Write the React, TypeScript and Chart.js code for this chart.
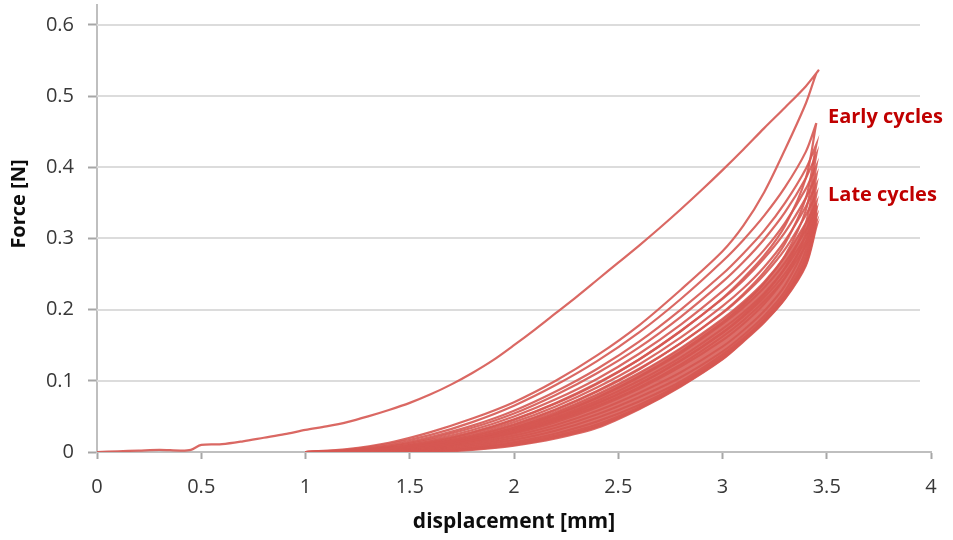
import React, { useEffect, useRef } from "react";
import { Chart, registerables } from "chart.js";

Chart.register(...registerables);

// ---------- data ----------
// shared displacement grid for cycles 2..13 and cycle-1 unloading [mm]
const GRID_X = [1.0, 1.2, 1.4, 1.6, 1.8, 2.0, 2.2, 2.4, 2.6, 2.8, 3.0, 3.1, 3.2, 3.3, 3.4, 3.45];

// first loading from zero
const LOAD_1_X = [0, 0.1, 0.2, 0.3, 0.4, 0.45, 0.5, 0.6, 0.7, 0.8, 0.9, 1.0, 1.1, 1.2, 1.3, 1.4, 1.5, 1.6, 1.7, 1.8, 1.9, 2.0, 2.1, 2.2, 2.3, 2.4, 2.5, 2.6, 2.7, 2.8, 2.9, 3.0, 3.1, 3.2, 3.3, 3.4, 3.46];
const LOAD_1_Y = [0, 0.001, 0.002, 0.003, 0.002, 0.003, 0.010, 0.011, 0.015, 0.020, 0.025, 0.031, 0.036, 0.042, 0.050, 0.059, 0.069, 0.081, 0.095, 0.111, 0.129, 0.150, 0.172, 0.195, 0.218, 0.242, 0.266, 0.290, 0.315, 0.341, 0.368, 0.396, 0.425, 0.455, 0.484, 0.514, 0.536];
const UNLOAD_1 = [0, 0.004, 0.013, 0.028, 0.047, 0.070, 0.100, 0.136, 0.178, 0.228, 0.282, 0.318, 0.365, 0.425, 0.490, 0.532];

// later cycles: loading / unloading force on GRID_X [N]
const LOAD_2 = [0, 0.003, 0.011, 0.024, 0.042, 0.065, 0.094, 0.128, 0.168, 0.215, 0.268, 0.298, 0.332, 0.372, 0.422, 0.462];
const UNLOAD_2 = [0, 0.001, 0.005, 0.014, 0.027, 0.045, 0.068, 0.096, 0.130, 0.170, 0.216, 0.244, 0.276, 0.318, 0.385, 0.462];
const LOAD_3 = [0, 0.002, 0.009, 0.021, 0.037, 0.058, 0.085, 0.117, 0.155, 0.200, 0.250, 0.279, 0.311, 0.350, 0.398, 0.432];
const UNLOAD_3 = [0, 0, 0.004, 0.011, 0.022, 0.038, 0.059, 0.085, 0.116, 0.153, 0.196, 0.222, 0.253, 0.293, 0.357, 0.432];
const LOAD_4 = [0, 0.002, 0.008, 0.019, 0.034, 0.054, 0.080, 0.111, 0.147, 0.190, 0.239, 0.267, 0.299, 0.337, 0.385, 0.418];
const UNLOAD_4 = [0, 0, 0.003, 0.009, 0.019, 0.034, 0.053, 0.077, 0.106, 0.141, 0.182, 0.207, 0.237, 0.276, 0.340, 0.418];
const LOAD_5 = [0, 0.001, 0.007, 0.017, 0.031, 0.050, 0.074, 0.103, 0.138, 0.179, 0.226, 0.253, 0.284, 0.322, 0.370, 0.402];
const UNLOAD_5 = [0, 0, 0.002, 0.007, 0.016, 0.029, 0.047, 0.069, 0.096, 0.129, 0.168, 0.192, 0.221, 0.259, 0.322, 0.402];
const LOAD_6 = [0, 0.001, 0.006, 0.015, 0.028, 0.046, 0.069, 0.097, 0.130, 0.170, 0.215, 0.241, 0.272, 0.309, 0.357, 0.388];
const UNLOAD_6 = [0, 0, 0.002, 0.006, 0.014, 0.026, 0.042, 0.063, 0.089, 0.120, 0.157, 0.180, 0.208, 0.245, 0.307, 0.388];
const LOAD_7 = [0, 0.001, 0.005, 0.013, 0.025, 0.042, 0.064, 0.091, 0.123, 0.161, 0.205, 0.230, 0.260, 0.297, 0.345, 0.375];
const UNLOAD_7 = [0, 0, 0.001, 0.005, 0.012, 0.023, 0.038, 0.058, 0.083, 0.112, 0.148, 0.171, 0.198, 0.234, 0.294, 0.375];
const LOAD_8 = [0, 0, 0.004, 0.012, 0.023, 0.039, 0.060, 0.086, 0.117, 0.153, 0.195, 0.220, 0.249, 0.285, 0.333, 0.362];
const UNLOAD_8 = [0, 0, 0.001, 0.004, 0.010, 0.020, 0.034, 0.053, 0.077, 0.105, 0.141, 0.164, 0.191, 0.226, 0.284, 0.362];
const LOAD_9 = [0, 0, 0.004, 0.011, 0.021, 0.036, 0.056, 0.081, 0.111, 0.146, 0.187, 0.211, 0.239, 0.275, 0.322, 0.350];
const UNLOAD_9 = [0, 0, 0.001, 0.003, 0.008, 0.017, 0.030, 0.048, 0.071, 0.099, 0.137, 0.160, 0.187, 0.221, 0.276, 0.350];
const LOAD_10 = [0, 0, 0.003, 0.010, 0.019, 0.033, 0.052, 0.076, 0.105, 0.139, 0.180, 0.203, 0.231, 0.266, 0.312, 0.340];
const UNLOAD_10 = [0, 0, 0, 0.002, 0.006, 0.014, 0.026, 0.043, 0.066, 0.096, 0.134, 0.158, 0.185, 0.219, 0.270, 0.340];
const LOAD_11 = [0, 0, 0.003, 0.009, 0.018, 0.031, 0.049, 0.072, 0.100, 0.133, 0.173, 0.196, 0.223, 0.258, 0.303, 0.330];
const UNLOAD_11 = [0, 0, 0, 0.001, 0.005, 0.012, 0.023, 0.039, 0.063, 0.094, 0.132, 0.157, 0.184, 0.217, 0.266, 0.330];
const LOAD_12 = [0, 0, 0.002, 0.008, 0.017, 0.029, 0.046, 0.068, 0.095, 0.128, 0.167, 0.190, 0.217, 0.251, 0.296, 0.322];
const UNLOAD_12 = [0, 0, 0, 0.001, 0.004, 0.010, 0.021, 0.036, 0.061, 0.093, 0.131, 0.156, 0.183, 0.216, 0.264, 0.322];
const LOAD_13 = [0, 0, 0.002, 0.007, 0.016, 0.027, 0.044, 0.065, 0.091, 0.123, 0.162, 0.185, 0.212, 0.245, 0.290, 0.316];
const UNLOAD_13 = [0, 0, 0, 0, 0.003, 0.009, 0.019, 0.034, 0.060, 0.092, 0.130, 0.155, 0.182, 0.215, 0.262, 0.316];

const LATER_CYCLES = [
  [LOAD_2, UNLOAD_2], [LOAD_3, UNLOAD_3], [LOAD_4, UNLOAD_4], [LOAD_5, UNLOAD_5],
  [LOAD_6, UNLOAD_6], [LOAD_7, UNLOAD_7], [LOAD_8, UNLOAD_8], [LOAD_9, UNLOAD_9],
  [LOAD_10, UNLOAD_10], [LOAD_11, UNLOAD_11], [LOAD_12, UNLOAD_12], [LOAD_13, UNLOAD_13],
];

const Y_TICKS = [0, 0.1, 0.2, 0.3, 0.4, 0.5, 0.6];
const X_TICKS = [0, 0.5, 1, 1.5, 2, 2.5, 3, 3.5, 4];

const X_TITLE = "displacement [mm]";
const Y_TITLE = "Force [N]";
const NOTE_EARLY = "Early cycles";
const NOTE_LATE = "Late cycles";

// ---------- styles ----------
const LINE = "rgba(214, 88, 82, 0.9)";
const BAND = "rgba(214, 86, 80, 0.85)";
const FAMILY = "'Open Sans', 'Liberation Sans', sans-serif";
const TICK_FONT = { family: FAMILY, size: 20 };
const TEXT = "#383838";

function loop(load: number[], unload: number[]) {
  const pts = GRID_X.map((x, i) => ({ x, y: load[i] }));
  for (let i = GRID_X.length - 1; i >= 0; i--) pts.push({ x: GRID_X[i], y: unload[i] });
  return pts;
}

// horizontal gridlines that stop a little short of the plot's right edge
const gridPlugin = {
  id: "shortGrid",
  beforeDatasetsDraw(chart: any) {
    const ctx = chart.ctx;
    const ys = chart.scales.y;
    const { left, right } = chart.chartArea;
    ctx.save();
    ctx.strokeStyle = "#dcdcdc";
    ctx.lineWidth = 2;
    Y_TICKS.forEach((v) => {
      if (v === 0) return;
      const y = Math.round(ys.getPixelForValue(v));
      ctx.beginPath();
      ctx.moveTo(left, y);
      ctx.lineTo(right - 11, y);
      ctx.stroke();
    });
    ctx.restore();
  },
};

const textPlugin = {
  id: "texts",
  afterDraw(chart: any) {
    const ctx = chart.ctx;
    const xs = chart.scales.x;
    ctx.save();
    ctx.fillStyle = "#0d0d0d";
    ctx.textAlign = "center";
    ctx.textBaseline = "middle";
    ctx.font = `bold 21px ${FAMILY}`;
    ctx.fillText(X_TITLE, (xs.left + xs.right) / 2, 522);
    ctx.font = `bold 20px ${FAMILY}`;
    ctx.translate(19, 204);
    ctx.rotate(-Math.PI / 2);
    ctx.fillText(Y_TITLE, 0, 0);
    ctx.restore();

    ctx.save();
    ctx.fillStyle = "#c00000";
    ctx.font = `bold 20px ${FAMILY}`;
    ctx.textAlign = "left";
    ctx.textBaseline = "middle";
    ctx.fillText(NOTE_EARLY, 828, 117);
    ctx.fillText(NOTE_LATE, 828, 195);
    ctx.restore();
  },
};

export default function App() {
  const ref = useRef<HTMLCanvasElement | null>(null);

  useEffect(() => {
    if (!ref.current) return;
    const datasets: any[] = [];
    const c1 = LOAD_1_X.map((x, i) => ({ x, y: LOAD_1_Y[i] }));
    for (let i = GRID_X.length - 1; i >= 0; i--) c1.push({ x: GRID_X[i], y: UNLOAD_1[i] });
    datasets.push({ data: c1, order: 1 });
    LATER_CYCLES.forEach(([l, u], k) => datasets.push({ data: loop(l, u), order: 2 + k }));
    // dense overlap of the many late cycles
    const band = GRID_X.map((x, i) => ({ x, y: LOAD_9[i] }));
    for (let i = GRID_X.length - 1; i >= 0; i--) band.push({ x: GRID_X[i], y: UNLOAD_13[i] });
    datasets.push({
      data: band,
      order: 100,
      borderWidth: 0,
      borderColor: "rgba(0,0,0,0)",
      backgroundColor: BAND,
      fill: "shape",
    });

    const chart = new Chart(ref.current, {
      type: "scatter",
      data: {
        datasets: datasets.map((d) => ({
          showLine: true,
          pointRadius: 0,
          borderColor: LINE,
          borderWidth: 2.2,
          tension: 0.3,
          fill: false,
          ...d,
        })),
      },
      options: {
        animation: false,
        responsive: false,
        maintainAspectRatio: false,
        layout: { padding: { top: 5, right: 22, left: 0, bottom: 0 } },
        plugins: { legend: { display: false }, tooltip: { enabled: false }, title: { display: false } },
        scales: {
          x: {
            type: "linear",
            min: 0,
            max: 4,
            afterBuildTicks: (s: any) => { s.ticks = X_TICKS.map((v) => ({ value: v })); },
            afterFit: (s: any) => { s.height = 88; s.paddingLeft = 0; s.paddingRight = 0; },
            grid: { drawOnChartArea: false, drawTicks: true, tickLength: 7, tickColor: "#a6a6a6", tickWidth: 2 },
            border: { display: true, color: "#bfbfbf", width: 2 },
            ticks: { color: TEXT, font: TICK_FONT, padding: 16, maxRotation: 0, callback: (v: any) => String(v) },
          },
          y: {
            type: "linear",
            min: 0,
            max: 0.628,
            afterBuildTicks: (s: any) => { s.ticks = Y_TICKS.map((v) => ({ value: v })); },
            afterFit: (s: any) => { s.width = 97; s.paddingTop = 0; s.paddingBottom = 0; },
            grid: { drawOnChartArea: false, drawTicks: true, tickLength: 9, tickColor: "#a6a6a6", tickWidth: 2 },
            border: { display: true, color: "#bfbfbf", width: 2 },
            ticks: { color: TEXT, font: TICK_FONT, padding: 14, callback: (v: any) => String(v) },
          },
        },
      },
      plugins: [gridPlugin, textPlugin],
    });
    return () => chart.destroy();
  }, []);

  return (
    <div style={{ position: "fixed", left: 0, top: 0, width: 953, height: 540, background: "#fff" }}>
      <canvas ref={ref} width={953} height={540} style={{ width: 953, height: 540 }} />
    </div>
  );
}
